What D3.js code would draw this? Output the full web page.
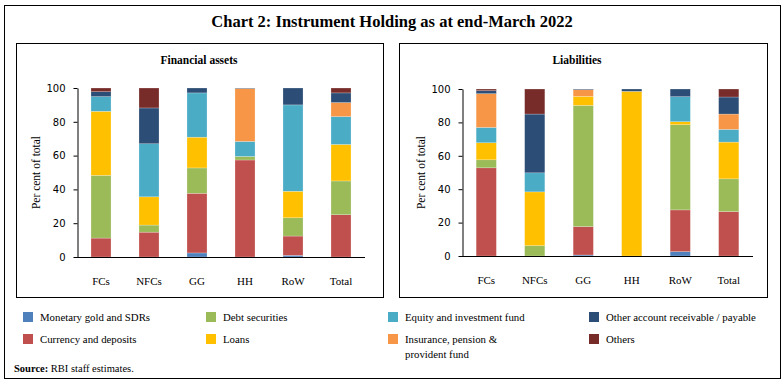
<!DOCTYPE html>
<html>
<head>
<meta charset="utf-8">
<script src="https://cdn.jsdelivr.net/npm/d3@7"></script>
<style>
  body { margin: 0; background: #fff; }
  svg { display: block; }
</style>
</head>
<body>
<svg id="chart" width="784" height="384"></svg>
<script>
// ---- Data ----
const categories = ["FCs", "NFCs", "GG", "HH", "RoW", "Total"];
const seriesNames = [
  "Monetary gold and SDRs",
  "Currency and deposits",
  "Debt securities",
  "Loans",
  "Equity and investment fund",
  "Insurance, pension & provident fund",
  "Other account receivable / payable",
  "Others"
];
const seriesColors = ["#4F81BD", "#C0504D", "#9BBB59", "#FFC000", "#4BACC6", "#F79646", "#2C4D75", "#772C2A"];

// Financial assets (per cent of total), one array per series, values by category
const assetsGold      = [0,    0,    2.4,  0,    1.0,  0];
const assetsCurrency  = [11.2, 14.7, 35.3, 57.4, 11.4, 25.0];
const assetsDebt      = [37.1, 4.2,  15.0, 2.1,  10.8, 20.0];
const assetsLoans     = [37.9, 16.7, 18.2, 0,    15.7, 21.6];
const assetsEquity    = [8.7,  31.4, 26.2, 8.9,  51.1, 16.5];
const assetsInsurance = [0,    0,    0,    31.3, 0,    8.3];
const assetsOtherAcct = [2.9,  21.2, 2.9,  0.3,  10.0, 5.7];
const assetsOthers    = [2.2,  11.8, 0,    0,    0,    2.9];

// Liabilities (per cent of total)
const liabGold      = [0,    0,    0.6,  0,    2.6,  0];
const liabCurrency  = [52.8, 0,    17.0, 0,    25.0, 26.6];
const liabDebt      = [4.8,  6.2,  72.6, 0,    51.0, 19.6];
const liabLoans     = [10.2, 32.2, 5.4,  98.6, 1.8,  22.0];
const liabEquity    = [9.2,  11.4, 0,    0,    15.0, 7.6];
const liabInsurance = [20.2, 0,    4.0,  0,    0,    9.2];
const liabOtherAcct = [1.8,  35.2, 0.4,  1.4,  4.6,  10.2];
const liabOthers    = [1.0,  15.0, 0,    0,    0,    4.8];

const yTicks = [0, 20, 40, 60, 80, 100];

const assetsSeries = [assetsGold, assetsCurrency, assetsDebt, assetsLoans, assetsEquity, assetsInsurance, assetsOtherAcct, assetsOthers];
const liabSeries   = [liabGold, liabCurrency, liabDebt, liabLoans, liabEquity, liabInsurance, liabOtherAcct, liabOthers];

// ---- Drawing ----
const svg = d3.select("#chart");
const SERIF = "'Liberation Serif', 'DejaVu Serif', serif";
const SANS = "'DejaVu Sans', Verdana, sans-serif";

svg.append("rect").attr("x", 0).attr("y", 0).attr("width", 784).attr("height", 384).attr("fill", "#fff");
// outer border
svg.append("rect").attr("x", 4.5).attr("y", 5.5).attr("width", 776).attr("height", 373)
  .attr("fill", "none").attr("stroke", "#000").attr("stroke-width", 1);

svg.append("text").attr("x", 392).attr("y", 27).attr("text-anchor", "middle")
  .attr("font-family", SERIF).attr("font-weight", "bold").attr("font-size", 16.5)
  .text("Chart 2: Instrument Holding as at end-March 2022");

function panel(opts) {
  const g = svg.append("g");
  g.append("rect").attr("x", opts.box[0] + 0.5).attr("y", opts.box[1] + 0.5)
    .attr("width", opts.box[2]).attr("height", opts.box[3])
    .attr("fill", "none").attr("stroke", "#000").attr("stroke-width", 1);

  g.append("text").attr("x", opts.titleX).attr("y", 64).attr("text-anchor", "middle")
    .attr("font-family", SERIF).attr("font-weight", "bold").attr("font-size", 11.5)
    .text(opts.title);

  const x = d3.scaleBand().domain(categories).range([opts.x0, opts.x1])
    .paddingInner(0.583).paddingOuter(0.2915);
  const y = d3.scaleLinear().domain([0, 100]).range([opts.y0, opts.y1]);

  const rows = categories.map((c, i) => {
    const r = { cat: c };
    seriesNames.forEach((s, k) => r[s] = opts.series[k][i]);
    return r;
  });
  const stack = d3.stack().keys(seriesNames)(rows);

  const layers = g.append("g").selectAll("g").data(stack).join("g")
    .attr("fill", (d, k) => seriesColors[k]);
  layers.selectAll("rect").data(d => d.filter(p => p[1] - p[0] > 0)).join("rect")
    .attr("x", d => x(d.data.cat))
    .attr("width", x.bandwidth())
    .attr("y", d => y(d[1]))
    .attr("height", d => y(d[0]) - y(d[1]))
    .attr("stroke", "rgba(255,255,255,0.45)")
    .attr("stroke-width", 0.5);

  // y axis
  const yAxis = d3.axisLeft(y).tickValues(yTicks).tickSize(4).tickPadding(8).tickSizeOuter(0);
  const ya = g.append("g").attr("transform", `translate(${opts.x0 + 0.5},0)`).call(yAxis);
  ya.select(".domain").attr("stroke", "#000");
  ya.selectAll(".tick line").attr("stroke", "#000");
  ya.selectAll(".tick text").attr("font-family", SANS).attr("font-size", 10).attr("fill", "#000");

  // x axis
  const xAxis = d3.axisBottom(x).tickSize(0).tickPadding(20).tickSizeOuter(0);
  const xa = g.append("g").attr("transform", `translate(0,${opts.y0 + 0.5})`).call(xAxis);
  xa.select(".domain").attr("stroke", "#000").attr("d", `M${opts.x0},0H${opts.xEnd}`);
  xa.selectAll(".tick text").attr("font-family", SERIF).attr("font-size", 11).attr("fill", "#000");

  g.append("text")
    .attr("transform", `translate(${opts.x0 - 41},${(opts.y0 + opts.y1) / 2}) rotate(-90)`)
    .attr("text-anchor", "middle").attr("dominant-baseline", "central")
    .attr("font-family", SERIF).attr("font-size", 11.5)
    .text("Per cent of total");
}

panel({ box: [16, 43, 367, 254], title: "Financial assets", titleX: 199,
  x0: 77, x1: 365, xEnd: 365, y0: 257, y1: 88, series: assetsSeries });
panel({ box: [399, 43, 368, 254], title: "Liabilities", titleX: 577,
  x0: 462, x1: 753, xEnd: 753, y0: 256, y1: 89, series: liabSeries });

// legend (column-major, 2 rows)
const legendCols = [23, 206, 388, 589];
const legendRows = [312, 334];
const lg = svg.append("g");
seriesNames.forEach((s, k) => {
  const cx = legendCols[Math.floor(k / 2)];
  const cy = legendRows[k % 2];
  lg.append("rect").attr("x", cx).attr("y", cy).attr("width", 10).attr("height", 10)
    .attr("fill", seriesColors[k]);
  const t = lg.append("text").attr("x", cx + 17).attr("y", cy + 9)
    .attr("font-family", SERIF).attr("font-size", 10.8).attr("fill", "#000");
  if (s === "Insurance, pension & provident fund") {
    t.append("tspan").attr("x", cx + 17).attr("dy", 0).text("Insurance, pension &");
    t.append("tspan").attr("x", cx + 17).attr("dy", 15).text("provident fund");
  } else {
    t.text(s);
  }
});

const src = svg.append("text").attr("x", 14).attr("y", 372)
  .attr("font-family", SERIF).attr("font-size", 10.5).attr("fill", "#000");
src.append("tspan").attr("font-weight", "bold").text("Source:");
src.append("tspan").text(" RBI staff estimates.");
</script>
</body>
</html>
